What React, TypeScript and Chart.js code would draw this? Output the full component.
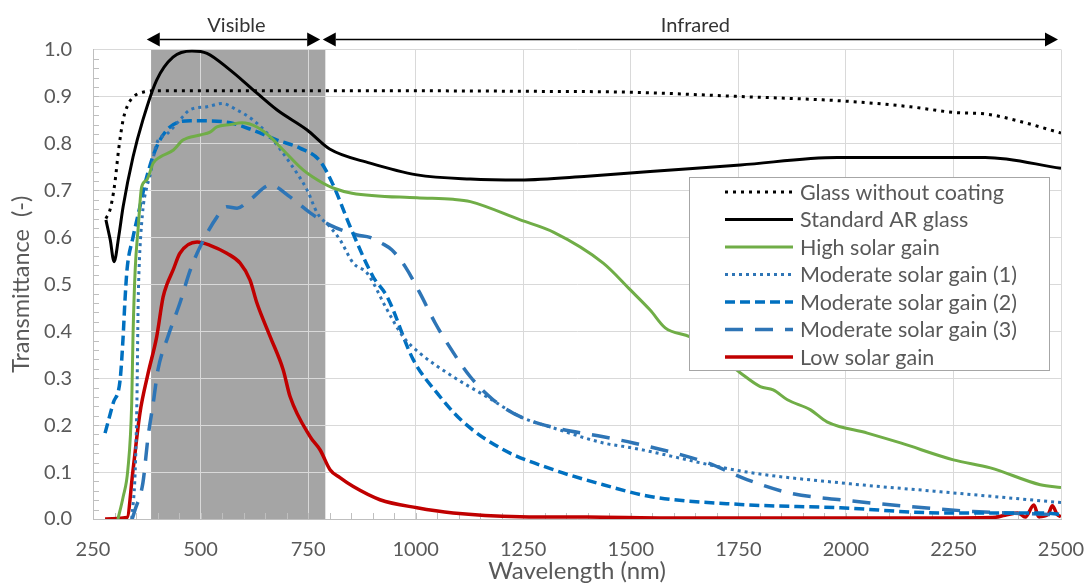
import { useEffect, useRef } from "react";
import { Chart, registerables } from "chart.js";

Chart.register(...registerables);

const FONT = "Lato, 'Open Sans', sans-serif";
const TEXT_GREY = "#595959";

// Axis labels and ticks
const xTitle = "Wavelength (nm)";
const yTitle = "Transmittance  (-)";
const xTickStep = 250;
const yTickStep = 0.1;

// Spectral regions (nm)
const visibleBand = [385, 790];
const visibleArrow = [375, 778];
const infraredArrow = [784, 2493];
const visibleLabel = "Visible";
const infraredLabel = "Infrared";

// Glass without coating
const glassWl = [280, 290, 300, 310, 320, 330, 345, 370, 400, 600, 800, 1000, 1250, 1500, 1750, 2000, 2150, 2250, 2330, 2400, 2500];
const glassT = [0.64, 0.66, 0.71, 0.79, 0.85, 0.88, 0.9, 0.91, 0.912, 0.912, 0.912, 0.912, 0.911, 0.909, 0.9, 0.89, 0.878, 0.866, 0.862, 0.848, 0.822];

// Standard AR glass
const arWl = [280, 290, 299, 310, 320, 343, 366, 398, 436, 480, 515, 569, 615, 678, 747, 800, 894, 1003, 1127, 1243, 1399, 1545, 1755, 1980, 2324, 2500];
const arT = [0.637, 0.595, 0.548, 0.603, 0.665, 0.771, 0.85, 0.935, 0.984, 0.997, 0.992, 0.956, 0.92, 0.871, 0.829, 0.788, 0.758, 0.733, 0.724, 0.722, 0.73, 0.74, 0.754, 0.77, 0.77, 0.747];

// High solar gain
const highWl = [308, 320, 331, 340, 343, 348, 355, 363, 375, 390, 406, 437, 459, 499, 522, 538, 569, 596, 631, 662, 692, 739, 785, 808, 852, 1003, 1087, 1127, 1243, 1320, 1436, 1499, 1545, 1580, 1638, 1677, 1755, 1801, 1831, 1864, 1917, 1956, 2050, 2127, 2250, 2336, 2452, 2500];
const highT = [0.0, 0.047, 0.105, 0.247, 0.39, 0.53, 0.62, 0.707, 0.722, 0.758, 0.771, 0.786, 0.807, 0.818, 0.824, 0.835, 0.84, 0.844, 0.835, 0.814, 0.786, 0.743, 0.715, 0.705, 0.694, 0.684, 0.681, 0.676, 0.637, 0.611, 0.545, 0.488, 0.445, 0.407, 0.388, 0.367, 0.311, 0.282, 0.275, 0.254, 0.233, 0.207, 0.183, 0.162, 0.126, 0.109, 0.073, 0.067];

// Moderate solar gain (1)
const mod1Wl = [340, 348, 352, 355, 357, 365, 375, 382, 398, 422, 452, 476, 515, 550, 585, 622, 662, 708, 748, 771, 801, 824, 855, 887, 934, 971, 1010, 1087, 1166, 1243, 1320, 1436, 1506, 1770, 1987, 2220, 2500];
const mod1T = [0.0, 0.1, 0.247, 0.46, 0.53, 0.65, 0.707, 0.729, 0.8, 0.82, 0.85, 0.872, 0.878, 0.885, 0.871, 0.85, 0.814, 0.758, 0.7, 0.652, 0.622, 0.595, 0.545, 0.524, 0.445, 0.388, 0.353, 0.303, 0.26, 0.218, 0.194, 0.162, 0.151, 0.1, 0.077, 0.058, 0.035];

// Moderate solar gain (2)
const mod2Wl = [278, 297, 313, 320, 324, 329, 343, 359, 375, 398, 429, 476, 515, 569, 622, 678, 731, 778, 808, 848, 901, 934, 994, 1050, 1110, 1203, 1320, 1436, 1545, 1755, 1987, 2220, 2452, 2500];
const mod2T = [0.183, 0.247, 0.296, 0.388, 0.46, 0.53, 0.6, 0.665, 0.729, 0.793, 0.835, 0.848, 0.848, 0.844, 0.828, 0.807, 0.79, 0.762, 0.712, 0.622, 0.516, 0.473, 0.34, 0.268, 0.207, 0.148, 0.105, 0.073, 0.048, 0.031, 0.024, 0.013, 0.013, 0.01];

// Moderate solar gain (3)
const mod3Wl = [341, 348, 366, 378, 390, 401, 424, 452, 476, 499, 538, 561, 585, 615, 662, 708, 755, 801, 864, 894, 922, 945, 976, 1010, 1045, 1073, 1127, 1180, 1243, 1320, 1436, 1506, 1677, 1770, 1871, 1987, 2142, 2297, 2500];
const mod3T = [0.0, 0.02, 0.077, 0.175, 0.247, 0.318, 0.388, 0.46, 0.53, 0.58, 0.643, 0.665, 0.662, 0.68, 0.711, 0.686, 0.652, 0.626, 0.605, 0.6, 0.587, 0.573, 0.537, 0.481, 0.418, 0.375, 0.303, 0.254, 0.218, 0.195, 0.175, 0.162, 0.12, 0.084, 0.055, 0.041, 0.027, 0.016, 0.009];

// Low solar gain
const lowWl = [278, 329, 343, 359, 378, 398, 413, 422, 436, 452, 492, 522, 561, 592, 615, 631, 662, 692, 708, 755, 778, 801, 824, 855, 917, 1003, 1087, 1243, 1399, 1600, 1900, 2200, 2340, 2370, 2400, 2417, 2437, 2448, 2470, 2480, 2491, 2500];
const lowT = [0.0, 0.003, 0.104, 0.225, 0.31, 0.388, 0.473, 0.5, 0.53, 0.566, 0.59, 0.583, 0.566, 0.545, 0.509, 0.46, 0.388, 0.318, 0.261, 0.175, 0.147, 0.105, 0.088, 0.069, 0.041, 0.024, 0.013, 0.005, 0.004, 0.002, 0.002, 0.002, 0.003, 0.008, 0.013, 0.004, 0.03, 0.005, 0.01, 0.028, 0.01, 0.005];

const pts = (wl: number[], t: number[]) => wl.map((x, i) => ({ x, y: t[i] }));

const line = (label: string, data: { x: number; y: number }[], color: string, width: number, dash: number[] = []) => ({
  label,
  data,
  borderColor: color,
  backgroundColor: color,
  borderWidth: width,
  borderDash: dash,
  pointRadius: 0,
  cubicInterpolationMode: "monotone",
  fill: false,
});

// Band shading, drawn under the grid
const bandPlugin = {
  id: "band",
  beforeDraw(chart: any) {
    const { ctx, chartArea, scales } = chart;
    ctx.save();
    ctx.fillStyle = "#ffffff";
    ctx.fillRect(0, 0, chart.width, chart.height);
    const x0 = scales.x.getPixelForValue(visibleBand[0]);
    const x1 = scales.x.getPixelForValue(visibleBand[1]);
    ctx.fillStyle = "#a5a5a5";
    ctx.fillRect(x0, chartArea.top, x1 - x0, chartArea.bottom - chartArea.top);
    ctx.restore();
  },
};

// Minor tick marks pointing into the plot
const minorTickPlugin = {
  id: "minorTicks",
  beforeDatasetsDraw(chart: any) {
    const { ctx, chartArea, scales } = chart;
    ctx.save();
    ctx.strokeStyle = "#bfbfbf";
    ctx.lineWidth = 1;
    ctx.beginPath();
    for (let v = scales.x.min + 50; v < scales.x.max; v += 50) {
      const px = Math.round(scales.x.getPixelForValue(v)) + 0.5;
      ctx.moveTo(px, chartArea.bottom);
      ctx.lineTo(px, chartArea.bottom - 6);
    }
    for (let i = 1; i < 50; i++) {
      const py = Math.round(scales.y.getPixelForValue(i * 0.02)) + 0.5;
      ctx.moveTo(chartArea.left, py);
      ctx.lineTo(chartArea.left + 6, py);
    }
    ctx.stroke();
    ctx.restore();
  },
};

const drawArrow = (ctx: CanvasRenderingContext2D, xa: number, xb: number, y: number) => {
  const head = 13;
  const half = 7;
  ctx.beginPath();
  ctx.moveTo(xa + head, y);
  ctx.lineTo(xb - head, y);
  ctx.stroke();
  ctx.beginPath();
  ctx.moveTo(xa, y);
  ctx.lineTo(xa + head, y - half);
  ctx.lineTo(xa + head, y + half);
  ctx.closePath();
  ctx.fill();
  ctx.beginPath();
  ctx.moveTo(xb, y);
  ctx.lineTo(xb - head, y - half);
  ctx.lineTo(xb - head, y + half);
  ctx.closePath();
  ctx.fill();
};

// Region arrows above the plot and the boxed legend
const overlayPlugin = {
  id: "overlay",
  afterDraw(chart: any) {
    const { ctx, chartArea, scales } = chart;
    const x = scales.x;
    ctx.save();
    ctx.strokeStyle = "#000";
    ctx.fillStyle = "#000";
    ctx.lineWidth = 1.3;
    const ay = chartArea.top - 10;
    const v0 = x.getPixelForValue(visibleArrow[0]);
    const v1 = x.getPixelForValue(visibleArrow[1]);
    const i0 = x.getPixelForValue(infraredArrow[0]);
    const i1 = x.getPixelForValue(infraredArrow[1]);
    drawArrow(ctx, v0, v1, ay);
    drawArrow(ctx, i0, i1, ay);
    ctx.font = `20px ${FONT}`;
    ctx.fillStyle = "#333333";
    ctx.textAlign = "center";
    ctx.textBaseline = "alphabetic";
    ctx.fillText(visibleLabel, (v0 + v1) / 2 + 3, ay - 8);
    ctx.fillText(infraredLabel, (i0 + i1) / 2 + 5, ay - 8);

    // legend
    const bx1 = chartArea.right - 12;
    const bx0 = bx1 - 360;
    const by0 = chartArea.top + 127.5;
    const by1 = by0 + 193;
    ctx.fillStyle = "#ffffff";
    ctx.fillRect(bx0, by0, bx1 - bx0, by1 - by0);
    ctx.strokeStyle = "#a6a6a6";
    ctx.lineWidth = 1;
    ctx.strokeRect(Math.round(bx0) + 0.5, Math.round(by0) + 0.5, bx1 - bx0, by1 - by0);
    const rowH = 27.5;
    chart.data.datasets.forEach((ds: any, i: number) => {
      const cy = by0 + 15 + i * rowH;
      ctx.save();
      ctx.strokeStyle = ds.borderColor;
      ctx.lineWidth = ds.borderWidth;
      ctx.setLineDash(ds.borderDash || []);
      ctx.beginPath();
      ctx.moveTo(bx0 + 36, cy);
      ctx.lineTo(bx0 + 104, cy);
      ctx.stroke();
      ctx.restore();
      ctx.fillStyle = TEXT_GREY;
      ctx.font = `21.5px ${FONT}`;
      ctx.textAlign = "left";
      ctx.textBaseline = "middle";
      ctx.fillText(ds.label, bx0 + 111, cy + 1);
    });
    ctx.restore();
  },
};

export default function App() {
  const canvasRef = useRef<HTMLCanvasElement | null>(null);

  useEffect(() => {
    document.body.style.margin = "0";
    const canvas = canvasRef.current;
    if (!canvas) return;
    const chart = new Chart(canvas, {
      type: "line",
      data: {
        datasets: [
          line("Glass without coating", pts(glassWl, glassT), "#000000", 3, [3, 5]),
          line("Standard AR glass", pts(arWl, arT), "#000000", 3),
          line("High solar gain", pts(highWl, highT), "#70ad47", 3),
          line("Moderate solar gain (1)", pts(mod1Wl, mod1T), "#2e75b6", 3, [3, 4]),
          line("Moderate solar gain (2)", pts(mod2Wl, mod2T), "#0070c0", 3.5, [10, 5]),
          line("Moderate solar gain (3)", pts(mod3Wl, mod3T), "#2e75b6", 3.5, [18, 12]),
          line("Low solar gain", pts(lowWl, lowT), "#c00000", 3.5),
        ] as any,
      },
      options: {
        animation: false,
        responsive: true,
        maintainAspectRatio: false,
        devicePixelRatio: 1,
        layout: { padding: { top: 49.5, right: 30, left: 0, bottom: 0 } },
        plugins: {
          legend: { display: false },
          tooltip: { enabled: false },
        },
        scales: {
          x: {
            type: "linear",
            min: 250,
            max: 2500,
            afterFit: (s: any) => {
              s.height = 64;
              s.paddingLeft = 0;
              s.paddingRight = 0;
            },
            ticks: {
              stepSize: xTickStep,
              color: TEXT_GREY,
              font: { family: FONT, size: 20 },
              padding: 19,
              maxRotation: 0,
              callback: (v: any) => String(v),
            },
            grid: { color: "#d9d9d9", lineWidth: 1, drawTicks: false },
            border: { color: "#bfbfbf", width: 1 },
            title: {
              display: true,
              text: xTitle,
              color: TEXT_GREY,
              font: { family: FONT, size: 24, lineHeight: 1 },
              padding: { top: 0, bottom: 0 },
            },
          },
          y: {
            type: "linear",
            min: 0,
            max: 1,
            afterFit: (s: any) => {
              s.width = 93;
              s.paddingTop = 0;
              s.paddingBottom = 0;
            },
            ticks: {
              stepSize: yTickStep,
              color: TEXT_GREY,
              font: { family: FONT, size: 20 },
              padding: 21,
              callback: (v: any) => Number(v).toFixed(1),
            },
            grid: { color: "#d9d9d9", lineWidth: 1, drawTicks: false },
            border: { color: "#bfbfbf", width: 1 },
            title: {
              display: true,
              text: yTitle,
              color: TEXT_GREY,
              font: { family: FONT, size: 23.5 },
              padding: { top: 7, bottom: 0 },
            },
          },
        },
      },
      plugins: [bandPlugin, minorTickPlugin, overlayPlugin],
    });
    return () => chart.destroy();
  }, []);

  return (
    <div style={{ width: 1091, height: 583, position: "relative" }}>
      <canvas ref={canvasRef} />
    </div>
  );
}
